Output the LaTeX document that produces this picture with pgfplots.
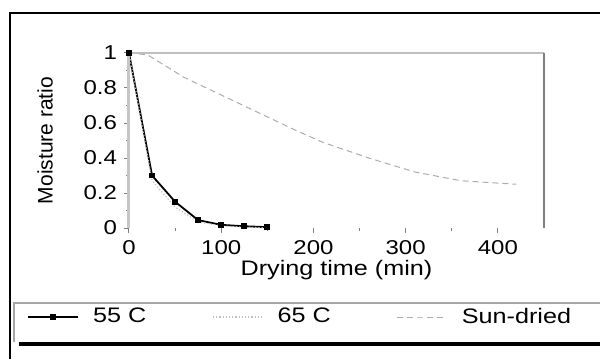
\documentclass[border=0pt]{standalone}
\usepackage{fontspec}
\setmainfont{Liberation Sans}[FakeStretch=1.2]
\newfontfamily\ylabfont{Liberation Sans}
\usepackage{pgfplots}
\pgfplotsset{compat=1.18}
\begin{document}
\begin{tikzpicture}
\useasboundingbox (0,0) rectangle (300pt,179.5pt);
\draw[black, line width=1.2pt] (5pt,0pt) -- (5pt,173pt) -- (300pt,173pt);
\draw[gray!70, line width=0.6pt] (7pt,8.5pt) -- (7pt,28pt) -- (300pt,28pt);
\draw[black, line width=1.6pt] (9.5pt,7.5pt) -- (300pt,7.5pt);
\begin{axis}[
  at={(64.5pt,65.5pt)}, anchor=south west,
  scale only axis, width=207.5pt, height=87.5pt,
  xmin=0, xmax=450, ymin=0, ymax=1, clip=false,
  axis line style={draw=none},
  xtick={0,100,...,400}, minor x tick num=1,
  ytick={0,0.2,...,1}, minor y tick num=1,
  xtick pos=bottom, ytick pos=left,
  tick align=outside,
  tick style={gray, line width=0.5pt},
  major tick length=2.5pt, minor tick length=1.5pt,
  ticklabel style={font=\fontsize{10}{12}\selectfont},
  /pgf/number format/assume math mode=true,
  xlabel={Drying time (min)},
  ylabel={\ylabfont Moisture ratio},
  label style={font=\fontsize{10.5}{12}\selectfont},
  xlabel style={at={(axis description cs:0.5,-0.24)}, anchor=center},
  ylabel style={at={(axis description cs:-0.2024,0.5)}, anchor=center},
  legend columns=3,
  legend style={draw=none, fill=none, inner sep=0pt,
    at={(axis description cs:-0.2458,-0.5086)}, anchor=west,
    font=\fontsize{10.5}{12}\selectfont,
    /tikz/every even column/.append style={column sep=31pt}},
  legend image code/.code={\draw[mark repeat=2,mark phase=2,#1] plot coordinates {(0pt,0pt) (12.5pt,0pt) (25pt,0pt)};},
]
\addplot[black, line width=0.9pt, mark=square*, mark size=1pt] coordinates {
 (0,1) (25,0.30) (50,0.15) (75,0.045) (100,0.018) (125,0.01) (150,0.005)};
\addlegendentry{\hspace{5pt}55 C}
\addplot[gray!50, densely dotted, line width=0.6pt] coordinates {
 (0,1) (25,0.27) (50,0.12) (75,0.035) (100,0.012) (125,0.005) (150,0.0)};
\addlegendentry{\hspace{5pt}65 C}
\addplot[gray!65, densely dashed, line width=0.5pt] coordinates {
 (0,1) (20,0.99) (60,0.86) (120,0.71) (180,0.56) (210,0.49) (260,0.40) (310,0.32) (360,0.27) (420,0.25)};
\addlegendentry{\hspace{5pt}Sun-dried}
\draw[gray!45, line width=1.5pt] (rel axis cs:0,0) -- (rel axis cs:0,1);
\draw[gray!50, line width=1pt] (rel axis cs:0,1) -- (rel axis cs:1,1);
\draw[gray, line width=1pt] (rel axis cs:1,1) -- (rel axis cs:1,0);
\end{axis}
\end{tikzpicture}
\end{document}
